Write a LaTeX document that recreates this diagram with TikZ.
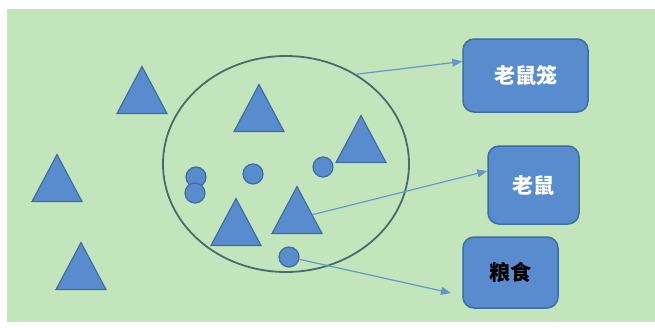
\documentclass[tikz,border=0pt]{standalone}
\usepackage{fontspec}
\newfontfamily\cjk{Noto Sans CJK SC}
\usetikzlibrary{shapes.geometric}
\usetikzlibrary{arrows.meta}
\definecolor{bggreen}{RGB}{195,229,188}
\definecolor{shapeblue}{RGB}{88,140,206}
\definecolor{shapeline}{RGB}{62,110,160}
\definecolor{ringline}{RGB}{72,108,110}
\definecolor{arrowblue}{RGB}{100,150,205}

\begin{document}
\begin{tikzpicture}
[
x=1pt, y=-1pt,
tri/.style={isosceles triangle, isosceles triangle stretches, shape border rotate=90, minimum width=50pt, minimum height=47pt, inner sep=0pt, draw=shapeline, fill=shapeblue, line width=1.2pt, anchor=apex},
dot/.style={circle, minimum size=20pt, inner sep=0pt, draw=shapeline, fill=shapeblue, line width=1.2pt},
ring/.style={ellipse, draw=ringline, line width=1.8pt, minimum width=246pt, minimum height=216pt},
box/.style={rectangle, rounded corners=11pt, draw=shapeline, fill=shapeblue, line width=1.5pt, font=\cjk\bfseries\fontsize{21}{25}\selectfont},
link/.style={arrowblue, line width=1.2pt, -{Triangle[length=10pt,width=8pt]}},
]
\useasboundingbox (0,0) rectangle (655,327);
\fill [white]   (0,0) rectangle (655,327);
\fill [bggreen] (7,9) rectangle (655,322);
% the cage
\node (cage)  [ring] at (286,164) {};
% triangles
\node (t1)    [tri] at (142,65)  {};
\node (t2)    [tri] at (259,83)  {};
\node (t3)    [tri] at (361,114) {};
\node (t4)    [tri] at (57,153)  {};
\node (t5)    [tri] at (81,241)  {};
\node (t6)    [tri] at (236,197) {};
\node (t7)    [tri] at (297,185) {};
% dots
\node (d1)    [dot] at (196,177) {};
\node (d2)    [dot] at (195,193) {};
\node (d3)    [dot] at (253,174) {};
\node (d4)    [dot] at (323,167) {};
\node (d5)    [dot] at (289,257) {};
% labels
\node (cagebox) [box, minimum width=125pt, minimum height=73pt, text=white] at (525.5,75.5)  {老鼠笼};
\node (mouse)   [box, minimum width=91pt,  minimum height=78pt, text=white] at (533.5,185)   {老鼠};
\node (food)    [box, minimum width=95pt,  minimum height=71pt, text=black] at (510.5,272.5) {粮食};
\coordinate (foodtip) at (451,293);
\draw [link] (cage.52) -- ([yshift=14pt]cagebox.west);
\draw [link] (t7) -- ([yshift=14pt]mouse.west);
\draw [link] (d5) -- (foodtip);
\end{tikzpicture}
\end{document}
